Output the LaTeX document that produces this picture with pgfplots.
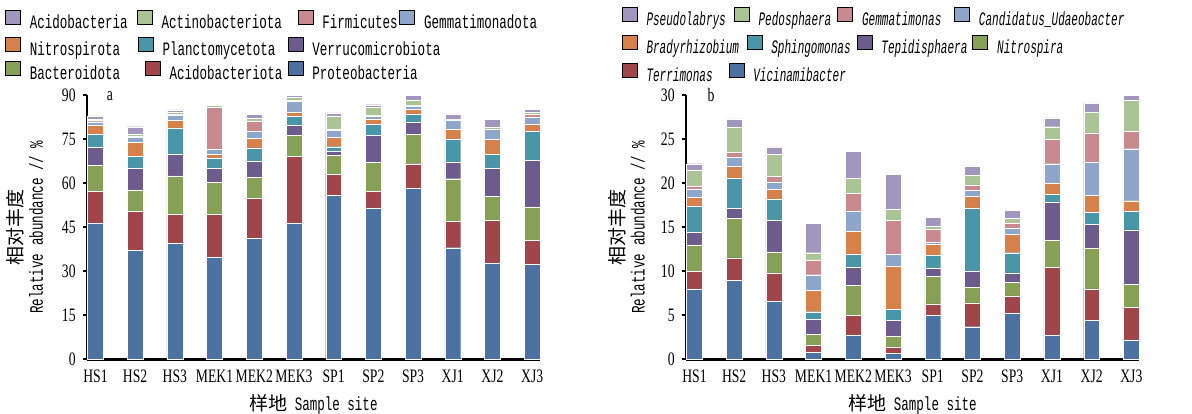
\documentclass[border=0pt]{standalone}
\usepackage{fontspec}
\usepackage{pgfplots}
\usepackage{pgfplotstable}
\pgfplotsset{compat=1.18}
\setmainfont{Liberation Serif}
\newfontfamily\tickfont[FakeStretch=0.72]{Liberation Serif}
\newfontfamily\monofont[FakeStretch=0.66]{Liberation Mono}
\newfontfamily\monoit[FakeStretch=0.58]{Liberation Mono}
\newfontfamily\cjk{Noto Sans CJK SC}
\newcommand\tf{\tickfont\fontsize{9.5pt}{10pt}\selectfont}
\newcommand\lf{\monofont\fontsize{9.5pt}{10pt}\selectfont}
\newcommand\lfi{\monoit\itshape\fontsize{9.5pt}{10pt}\selectfont}

\definecolor{c1}{RGB}{75,114,161}
\definecolor{c2}{RGB}{160,70,74}
\definecolor{c3}{RGB}{134,160,86}
\definecolor{c4}{RGB}{110,91,141}
\definecolor{c5}{RGB}{72,150,168}
\definecolor{c6}{RGB}{214,129,74}
\definecolor{c7}{RGB}{141,166,202}
\definecolor{c8}{RGB}{200,138,142}
\definecolor{c9}{RGB}{170,196,150}
\definecolor{c10}{RGB}{161,151,190}

% left panel: phyla (stack order bottom -> top)
\pgfplotstableread{
x  s1   s2   s3   s4   s5   s6   s7   s8   s9   s10
0  46.3 11.0 8.8  6.0  4.4  3.2  1.2  0.5  0.5  1.0
1  37.0 13.3 7.4  7.5  4.0  4.7  1.7  0.4  0.6  2.6
2  39.6 9.8  13.1 7.2  9.1  2.6  1.8  0.4  0.6  0.7
3  34.8 14.5 11.0 4.7  3.6  1.2  1.7  14.4 0.7  0.3
4  41.2 13.7 7.1  5.5  4.5  3.3  2.3  3.4  1.2  1.3
5  46.3 22.7 7.3  3.4  3.1  1.4  3.8  0.1  1.2  0.7
6  56.0 7.0  6.4  1.3  1.7  3.2  2.4  0.4  4.5  1.0
7  51.6 5.7  9.9  9.1  3.8  1.8  1.0  0.1  2.9  0.8
8  58.1 8.5  10.1 4.1  2.8  1.6  1.1  0.1  1.8  1.8
9  38.0 8.9  14.6 5.7  7.9  3.1  3.2  0.1  0.4  1.7
10 32.6 14.8 8.2  9.6  4.7  4.9  3.6  0.1  0.6  2.5
11 32.3 8.1  11.5 15.9 9.8  2.6  2.3  1.1  0.6  1.0
}\tabL

% right panel: genera (stack order bottom -> top)
\pgfplotstableread{
x  s1   s2   s3   s4   s5   s6   s7   s8   s9   s10
0  8.0  2.0  3.0  1.4  3.0  1.0  0.9  0.4  1.8  0.7
1  9.0  2.5  4.5  1.1  3.4  1.4  1.0  0.6  2.8  1.0
2  6.6  3.2  2.4  3.6  2.4  1.1  0.8  0.7  2.5  0.8
3  0.8  0.8  1.2  1.8  0.8  2.4  1.8  1.7  0.8  3.3
4  2.7  2.3  3.4  2.1  1.4  2.6  2.3  2.0  1.7  3.1
5  0.7  0.7  1.2  1.8  1.3  4.9  1.3  3.9  1.2  4.0
6  5.0  1.3  3.1  0.9  1.5  1.3  0.2  1.5  0.3  1.0
7  3.7  2.7  1.8  1.8  7.2  1.3  0.7  0.6  1.1  1.0
8  5.2  2.0  1.5  1.1  2.3  2.1  0.7  0.6  0.5  0.9
9  2.7  7.7  3.1  4.3  0.9  1.3  2.2  2.8  1.4  1.0
10 4.4  3.6  4.6  2.7  1.4  1.9  3.8  3.3  2.3  1.1
11 2.2  3.7  2.6  6.2  2.1  1.2  5.9  2.0  3.5  0.6
}\tabR

\pgfplotsset{
  myax/.style={
    scale only axis, width=226.7pt, height=132.15pt,
    ybar stacked, bar width=0.4,
    xmin=-0.22, xmax=11.2, ymin=0,
    xtick={0,...,11},
    xticklabels={HS1,HS2,HS3,MEK1,MEK2,MEK3,SP1,SP2,SP3,XJ1,XJ2,XJ3},
    axis x line=bottom, axis y line=left,
    axis line style={-, line width=1.2pt, black},
    x tick style={draw=none},
    y tick style={line width=1pt, black},
    tick align=outside, major tick length=2pt,
    tick label style={font=\tf},
    /pgf/number format/assume math mode=true,
    label style={font=\lf},
    xlabel={{\cjk 样地} Sample site},
    ylabel={{\cjk 相对丰度}\\Relative abundance // \%},
    ylabel style={align=center, anchor=center},
    xlabel style={anchor=center, at={(axis description cs:0.5,-0.169)}},
    clip=false,
    every axis plot/.append style={draw=white, line width=0.2pt},
  },
  legrow/.style={
    hide axis, scale only axis, width=5pt, height=5pt,
    xmin=0, xmax=1, ymin=0, ymax=1, anchor=west,
    legend columns=-1,
    legend image code/.code={\fill[##1] (0pt,-0.5pt) rectangle (7.5pt,6.5pt);},
    legend style={draw=none, fill=none, at={(axis description cs:0,0.5)}, anchor=west,
      inner sep=0pt, outer sep=0pt, nodes={inner sep=0pt},
      /tikz/every odd column/.append style={column sep=4.5pt},
      /tikz/every even column/.append style={column sep=0pt, text height=6.8pt, text depth=2.2pt}},
  },
}

\begin{document}
\begin{tikzpicture}
\useasboundingbox (0,0) rectangle (596pt,206.5pt);

% ---- legend rows, left panel ----
\begin{axis}[legrow, at={(2.5pt,196.0pt)}, legend style={font=\lf}]
\addlegendimage{fill=c10}\addlegendentry{\makebox[53.5pt][l]{Acidobacteria}}
\addlegendimage{fill=c9}\addlegendentry{\makebox[68pt][l]{Actinobacteriota}}
\addlegendimage{fill=c8}\addlegendentry{\makebox[38.5pt][l]{Firmicutes}}
\addlegendimage{fill=c7}\addlegendentry{Gemmatimonadota}
\end{axis}
\begin{axis}[legrow, at={(2.5pt,182.8pt)}, legend style={font=\lf}]
\addlegendimage{fill=c6}\addlegendentry{\makebox[54pt][l]{Nitrospirota}}
\addlegendimage{fill=c5}\addlegendentry{\makebox[62.5pt][l]{Planctomycetota}}
\addlegendimage{fill=c4}\addlegendentry{Verrucomicrobiota}
\end{axis}
\begin{axis}[legrow, at={(2.5pt,170.8pt)}, legend style={font=\lf}]
\addlegendimage{fill=c3}\addlegendentry{\makebox[57.5pt][l]{Bacteroidota}}
\addlegendimage{fill=c2}\addlegendentry{\makebox[59pt][l]{Acidobacteriota}}
\addlegendimage{fill=c1}\addlegendentry{Proteobacteria}
\end{axis}

% ---- legend rows, right panel ----
\begin{axis}[legrow, at={(310.85pt,197.45pt)}, legend style={font=\lfi}]
\addlegendimage{fill=c10}\addlegendentry{\makebox[43.65pt][l]{Pseudolabrys}}
\addlegendimage{fill=c9}\addlegendentry{\makebox[39.35pt][l]{Pedosphaera}}
\addlegendimage{fill=c8}\addlegendentry{\makebox[46pt][l]{Gemmatimonas}}
\addlegendimage{fill=c7}\addlegendentry{Candidatus\_Udaeobacter}
\end{axis}
\begin{axis}[legrow, at={(310.85pt,183.55pt)}, legend style={font=\lfi}]
\addlegendimage{fill=c6}\addlegendentry{\makebox[50pt][l]{Bradyrhizobium}}
\addlegendimage{fill=c5}\addlegendentry{\makebox[42.65pt][l]{Sphingomonas}}
\addlegendimage{fill=c4}\addlegendentry{\makebox[45.5pt][l]{Tepidisphaera}}
\addlegendimage{fill=c3}\addlegendentry{Nitrospira}
\end{axis}
\begin{axis}[legrow, at={(310.85pt,169.55pt)}, legend style={font=\lfi}]
\addlegendimage{fill=c2}\addlegendentry{\makebox[41pt][l]{Terrimonas}}
\addlegendimage{fill=c1}\addlegendentry{Vicinamibacter}
\end{axis}

% ---- panel a ----
\begin{axis}[myax, at={(43.35pt,26.85pt)}, anchor=south west,
  ymax=90, ytick={0,15,...,90},
  ylabel style={at={(axis description cs:-0.136,0.5)}}]
\addplot[fill=c1] table[x=x,y=s1]{\tabL};
\addplot[fill=c2] table[x=x,y=s2]{\tabL};
\addplot[fill=c3] table[x=x,y=s3]{\tabL};
\addplot[fill=c4] table[x=x,y=s4]{\tabL};
\addplot[fill=c5] table[x=x,y=s5]{\tabL};
\addplot[fill=c6] table[x=x,y=s6]{\tabL};
\addplot[fill=c7] table[x=x,y=s7]{\tabL};
\addplot[fill=c8] table[x=x,y=s8]{\tabL};
\addplot[fill=c9] table[x=x,y=s9]{\tabL};
\addplot[fill=c10] table[x=x,y=s10]{\tabL};
\node[font=\tf] at (rel axis cs:0.051,0.996) {a};
\end{axis}

% ---- panel b ----
\begin{axis}[myax, at={(342.85pt,26.85pt)}, anchor=south west,
  width=226.8pt,
  ymax=30, ytick={0,5,...,30},
  ylabel style={at={(axis description cs:-0.13,0.5)}}]
\addplot[fill=c1] table[x=x,y=s1]{\tabR};
\addplot[fill=c2] table[x=x,y=s2]{\tabR};
\addplot[fill=c3] table[x=x,y=s3]{\tabR};
\addplot[fill=c4] table[x=x,y=s4]{\tabR};
\addplot[fill=c5] table[x=x,y=s5]{\tabR};
\addplot[fill=c6] table[x=x,y=s6]{\tabR};
\addplot[fill=c7] table[x=x,y=s7]{\tabR};
\addplot[fill=c8] table[x=x,y=s8]{\tabR};
\addplot[fill=c9] table[x=x,y=s9]{\tabR};
\addplot[fill=c10] table[x=x,y=s10]{\tabR};
\node[font=\tf] at (rel axis cs:0.056,1.0) {b};
\end{axis}
\end{tikzpicture}
\end{document}
